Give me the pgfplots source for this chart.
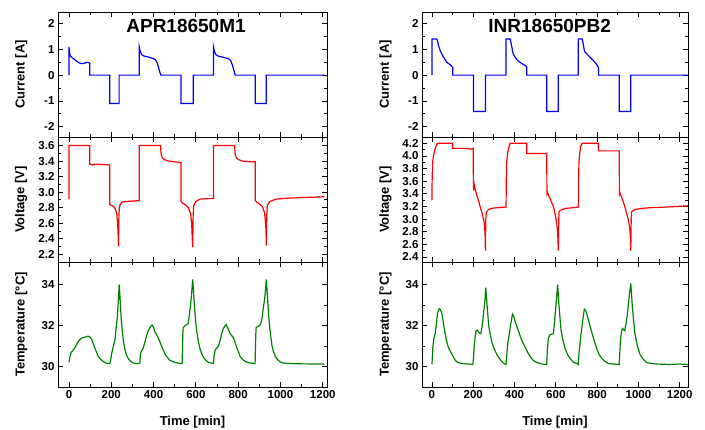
\documentclass[border=0pt]{standalone}
\usepackage{fontspec}
\setmainfont{Liberation Sans}
\usepackage{pgfplots}
\pgfplotsset{compat=1.18}

\definecolor{curblue}{RGB}{0,0,255}
\definecolor{voltred}{RGB}{255,0,0}
\definecolor{tempgreen}{RGB}{0,128,0}

\newcommand\tickfont{\bfseries\fontsize{11.5}{13}\selectfont}
\newcommand\labfont{\bfseries\fontsize{13}{15}\selectfont}
\newcommand\titfont{\bfseries\fontsize{19}{22}\selectfont}

\pgfplotsset{
  panel/.style={
    scale only axis, height=125pt,
    axis line style={line width=0.9pt},
    tick align=inside, tick pos=both,
    major tick length=5pt, minor tick length=3pt,
    every tick/.style={black, line width=0.8pt},
    xtick={0,200,...,1200}, minor x tick num=1,
    tick label style={font=\tickfont},
    /pgf/number format/assume math mode=true,
    /pgf/number format/1000 sep={},
    every axis y label/.style={at={(axis description cs:-0.137,0.5)}, rotate=90, anchor=center, font=\labfont},
    every axis x label/.style={at={(axis description cs:0.5,-0.28)}, anchor=center, font=\labfont},
  },
  leftp/.style={panel, width=269pt, xmin=-52, xmax=1220},
  rightp/.style={panel, width=266pt, xmin=-48, xmax=1240},
  curp/.style={ymin=-2.4, ymax=2.45, ytick={-2,-1,0,1,2}, minor y tick num=1, xticklabels={}, ylabel={Current [A]}},
  tempp/.style={ymin=29, ymax=35.1, ytick={30,32,34}, minor y tick num=1, xlabel={Time [min]}, ylabel={Temperature [°C]}},
  voltp/.style={xticklabels={}, ylabel={Voltage [V]}, minor y tick num=1,
    yticklabel style={/pgf/number format/.cd, fixed, fixed zerofill, precision=1}},
  cline/.style={color=curblue, line width=1.2pt},
  vline/.style={color=voltred, line width=1.2pt},
  tline/.style={color=tempgreen, line width=1.2pt},
}

\begin{document}
\begin{tikzpicture}
\useasboundingbox (0pt,0pt) rectangle (705pt,429pt);

% ---------------- APR18650M1 ----------------
\begin{axis}[leftp, curp, anchor=south west, at={(58pt,292pt)}]
\addplot[cline] coordinates {(0,0)(0,1.1)(3,0.85)(6,0.75)(12,0.70)(20,0.65)(30,0.58)(40,0.52)(50,0.47)(60,0.45)(70,0.45)(78,0.48)(85,0.50)(92,0.48)(98,0.47)(98,0)(193,0)(193,-1.1)(237,-1.1)(237,0)(332,0)(332,1.1)(336,0.95)(343,0.80)(355,0.74)(367,0.72)(385,0.68)(400,0.64)(410,0.58)(417,0.48)(425,0.25)(430,0.1)(435,0)(530,0)(530,-1.1)(588,-1.1)(588,0)(683,0)(683,1.1)(687,0.95)(694,0.80)(705,0.74)(715,0.72)(735,0.68)(754,0.64)(765,0.56)(772,0.40)(780,0.18)(786,0)(881,0)(881,-1.1)(933,-1.1)(933,0)(1208,0)};
\node[font=\titfont] at (axis description cs:0.476,0.89) {APR18650M1};
\end{axis}

\begin{axis}[leftp, voltp, anchor=south west, at={(58pt,167pt)}, ymin=2.1, ymax=3.71, ytick={2.2,2.4,...,3.61}]
\addplot[vline] coordinates {(0,2.91)(0,3.6)(98,3.6)(98,3.36)(110,3.35)(120,3.36)(193,3.35)(193,2.84)(200,2.83)(210,2.82)(220,2.78)(226,2.72)(230,2.6)(233,2.4)(234,2.3)(236,2.7)(238,2.80)(242,2.84)(250,2.87)(270,2.88)(332,2.89)(332,3.6)(433,3.6)(435,3.50)(440,3.45)(450,3.42)(470,3.40)(500,3.39)(530,3.38)(530,2.88)(536,2.86)(550,2.84)(565,2.80)(575,2.72)(580,2.6)(583,2.4)(585,2.29)(587,2.7)(590,2.83)(600,2.88)(620,2.91)(683,2.92)(683,3.6)(783,3.6)(785,3.50)(790,3.45)(800,3.42)(820,3.40)(860,3.39)(881,3.39)(881,2.89)(888,2.87)(900,2.85)(915,2.81)(925,2.73)(930,2.6)(932,2.45)(933,2.31)(935,2.7)(938,2.83)(950,2.88)(980,2.91)(1020,2.92)(1100,2.93)(1208,2.94)};
\end{axis}

\begin{axis}[leftp, tempp, anchor=south west, at={(58pt,42pt)}]
\addplot[tline] coordinates {(0,30.2)(5,30.5)(11,30.7)(20,30.8)(27,30.9)(35,31.05)(43,31.2)(50,31.3)(58,31.38)(70,31.42)(82,31.45)(90,31.48)(98,31.45)(106,31.35)(114,31.15)(122,30.9)(130,30.7)(138,30.5)(145,30.4)(157,30.28)(169,30.2)(181,30.15)(193,30.15)(197,30.3)(201,30.6)(209,30.95)(217,31.3)(224,31.97)(229,32.5)(232,33.0)(235,33.5)(237,34.0)(240,33.6)(243,33.0)(248,32.2)(253,31.6)(258,31.2)(264,30.85)(272,30.55)(280,30.4)(292,30.25)(304,30.17)(320,30.15)(335,30.15)(337,30.5)(340,30.7)(351,30.9)(359,31.2)(367,31.5)(375,31.75)(383,31.9)(390,32.0)(394,32.02)(400,31.9)(406,31.7)(414,31.55)(422,31.4)(430,31.2)(438,31.0)(446,30.8)(454,30.6)(465,30.45)(477,30.3)(500,30.2)(525,30.15)(535,30.15)(538,31.5)(540,31.9)(549,32.0)(558,32.05)(564,32.1)(570,32.6)(575,33.0)(580,33.6)(585,34.25)(589,33.6)(593,33.0)(598,32.3)(604,31.7)(612,31.2)(620,30.85)(628,30.6)(636,30.45)(647,30.3)(659,30.2)(683,30.15)(686,30.5)(691,30.8)(699,30.9)(707,31.0)(715,31.3)(722,31.6)(730,31.85)(738,32.0)(743,32.05)(750,31.9)(756,31.75)(762,31.6)(770,31.5)(778,31.4)(786,31.15)(794,30.9)(802,30.7)(809,30.5)(820,30.35)(833,30.25)(850,30.18)(880,30.15)(883,31.5)(885,31.9)(893,31.95)(901,32.0)(907,32.1)(912,32.3)(918,32.8)(925,33.3)(930,33.8)(933,34.25)(936,33.8)(939,33.3)(944,32.5)(949,31.9)(955,31.4)(960,31.0)(968,30.7)(975,30.5)(985,30.35)(999,30.22)(1015,30.17)(1031,30.15)(1100,30.13)(1208,30.12)};
\end{axis}

% ---------------- INR18650PB2 ----------------
\begin{axis}[rightp, curp, anchor=south west, at={(422pt,292pt)}]
\addplot[cline] coordinates {(0,0)(0,1.4)(24,1.4)(28,1.3)(32,1.15)(36,1.05)(40,0.95)(48,0.82)(56,0.7)(64,0.6)(72,0.5)(80,0.45)(89,0.4)(95,0.35)(101,0.3)(101,0)(201,0)(201,-1.41)(259,-1.41)(259,0)(359,0)(359,1.4)(379,1.4)(383,1.25)(387,1.1)(391,0.9)(395,0.8)(403,0.7)(411,0.6)(423,0.52)(435,0.45)(446,0.4)(456,0.35)(459,0.3)(459,0)(556,0)(556,-1.41)(612,-1.41)(612,0)(709,0)(709,1.4)(728,1.4)(733,1.2)(737,1.0)(741,0.9)(753,0.8)(765,0.7)(777,0.6)(789,0.5)(797,0.42)(805,0.32)(807,0.3)(807,0)(907,0)(907,-1.41)(963,-1.41)(963,0)(1240,0)};
\node[font=\titfont] at (axis description cs:0.48,0.89) {INR18650PB2};
\end{axis}

\begin{axis}[rightp, voltp, anchor=south west, at={(422pt,167pt)}, ymin=2.32, ymax=4.3, ytick={2.4,2.6,...,4.21}]
\addplot[vline] coordinates {(0,3.3)(1,3.6)(3,3.85)(5,3.95)(11,4.05)(16,4.12)(21,4.16)(27,4.2)(101,4.2)(101,4.12)(150,4.12)(190,4.11)(200,4.12)(201,3.45)(203,3.58)(206,3.52)(209,3.48)(217,3.38)(225,3.3)(233,3.2)(242,3.1)(246,3.05)(250,3.0)(254,2.92)(256,2.85)(258,2.7)(259,2.5)(261,3.0)(263,3.1)(268,3.13)(274,3.15)(290,3.17)(314,3.18)(359,3.19)(360,3.6)(362,3.9)(367,4.05)(371,4.12)(379,4.2)(459,4.2)(459,4.04)(540,4.04)(556,4.04)(557,3.4)(560,3.42)(564,3.38)(572,3.33)(580,3.26)(588,3.2)(595,3.1)(601,3.0)(605,2.92)(607,2.85)(610,2.7)(612,2.5)(614,3.0)(616,3.12)(628,3.15)(650,3.17)(685,3.18)(709,3.19)(710,3.6)(712,3.9)(716,4.05)(720,4.15)(728,4.2)(805,4.2)(807,4.08)(907,4.08)(908,3.4)(910,3.42)(914,3.38)(918,3.35)(926,3.28)(934,3.2)(942,3.1)(950,3.0)(955,2.92)(958,2.85)(961,2.7)(963,2.5)(965,3.0)(967,3.12)(983,3.15)(1020,3.17)(1055,3.18)(1136,3.19)(1240,3.21)};
\end{axis}

\begin{axis}[rightp, tempp, anchor=south west, at={(422pt,42pt)}]
\addplot[tline] coordinates {(0,30.1)(3,30.6)(5,31.0)(10,31.4)(16,31.6)(22,32.1)(27,32.6)(32,32.75)(37,32.82)(42,32.75)(48,32.6)(56,32.1)(64,31.6)(72,31.2)(81,30.9)(89,30.75)(97,30.6)(105,30.45)(113,30.3)(125,30.2)(145,30.15)(198,30.1)(201,30.4)(205,31.0)(210,31.5)(214,31.75)(220,31.78)(225,31.7)(231,31.62)(237,31.6)(242,31.9)(246,32.2)(250,32.6)(255,33.0)(258,33.4)(261,33.85)(264,33.4)(267,33.0)(271,32.5)(275,32.0)(282,31.6)(290,31.2)(302,30.85)(314,30.6)(326,30.4)(338,30.25)(350,30.15)(359,30.1)(362,30.5)(366,31.0)(370,31.3)(375,31.6)(382,32.1)(390,32.55)(396,32.45)(403,32.2)(415,31.85)(427,31.5)(439,31.2)(451,30.95)(463,30.7)(475,30.5)(490,30.3)(507,30.2)(530,30.13)(556,30.1)(559,30.8)(564,31.4)(572,31.55)(580,31.58)(588,31.6)(594,32.2)(599,32.8)(604,33.4)(609,34.0)(612,33.5)(615,33.0)(620,32.4)(625,31.8)(634,31.3)(644,30.9)(656,30.6)(669,30.4)(685,30.2)(701,30.15)(709,30.1)(712,30.6)(717,31.1)(721,31.5)(725,31.8)(731,32.3)(738,32.8)(744,32.75)(749,32.6)(761,32.15)(773,31.7)(785,31.3)(797,30.9)(809,30.6)(822,30.4)(838,30.25)(854,30.15)(880,30.12)(907,30.1)(910,30.7)(913,31.3)(918,31.7)(923,31.85)(928,31.8)(934,31.75)(940,32.1)(946,32.5)(951,33.0)(955,33.4)(960,33.8)(963,34.05)(966,33.6)(970,33.0)(976,32.3)(983,31.6)(995,31.0)(1007,30.6)(1023,30.35)(1039,30.2)(1060,30.15)(1087,30.12)(1150,30.1)(1200,30.12)(1240,30.1)};
\end{axis}
\end{tikzpicture}
\end{document}
